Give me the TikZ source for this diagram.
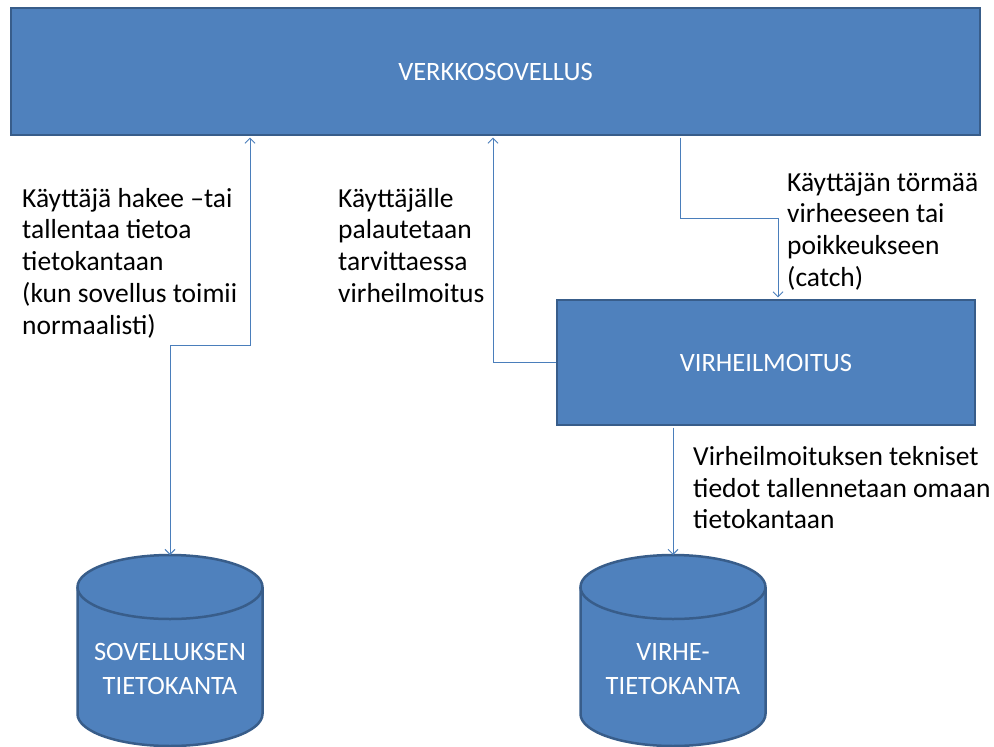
\documentclass[tikz,border=0pt]{standalone}
\usepackage{fontspec}
\setmainfont{Carlito}
\usetikzlibrary{arrows.meta,positioning}
\definecolor{boxfill}{HTML}{4F81BD}
\definecolor{boxline}{HTML}{385D8A}
\definecolor{connc}{HTML}{4A7EBB}
\tikzset{
  bluebox/.style={draw=boxline, fill=boxfill, line width=2.5pt, rectangle, inner sep=0pt,
    text=white, font=\fontsize{26.5}{32}\selectfont, align=center},
  conn/.style={draw=connc, line width=1pt, arrows={-Straight Barb[length=5pt,width=10pt]}},
  lbl/.style={anchor=north west, align=left, inner sep=0pt, text=black,
    font=\fontsize{27.5}{31.7}\selectfont},
  dblbl/.style={text=white, align=center, inner sep=0pt, font=\fontsize{26.5}{34}\selectfont},
  dbshape/.style={fill=boxfill, draw=boxline, line width=2.5pt}
}
\begin{document}
\begin{tikzpicture}[x=1pt,y=-1pt]
\useasboundingbox (0,0) rectangle (994,747);
% boxes
\node[bluebox, minimum width=969pt, minimum height=127pt] (app) at (495.5,71.5) {VERKKOSOVELLUS};
\node[bluebox, minimum width=418pt, minimum height=125pt] (err) at (766,362.5) {VIRHEILMOITUS};
% cylinder 1
\coordinate (db1top) at (170,555);
\fill[boxfill] (77.5,587) -- (77.5,714) arc[start angle=180,end angle=360,x radius=92.5pt,y radius=32pt] -- (262.5,587) arc[start angle=0,end angle=180,x radius=92.5pt,y radius=32pt] -- cycle;
\draw[boxline,line width=2.5pt] (77.5,587) -- (77.5,714) arc[start angle=180,end angle=360,x radius=92.5pt,y radius=32pt] -- (262.5,587);
\draw[boxline,line width=2.5pt] (170,587) ellipse[x radius=92.5pt,y radius=32pt];
\node[dblbl] (db1) at (170,669) {SOVELLUKSEN\\TIETOKANTA};
% cylinder 2
\coordinate (db2top) at (673,555);
\fill[boxfill] (580.5,587) -- (580.5,714) arc[start angle=180,end angle=360,x radius=92.5pt,y radius=32pt] -- (765.5,587) arc[start angle=0,end angle=180,x radius=92.5pt,y radius=32pt] -- cycle;
\draw[boxline,line width=2.5pt] (580.5,587) -- (580.5,714) arc[start angle=180,end angle=360,x radius=92.5pt,y radius=32pt] -- (765.5,587);
\draw[boxline,line width=2.5pt] (673,587) ellipse[x radius=92.5pt,y radius=32pt];
\node[dblbl] (db2) at (673,669) {VIRHE-\\TIETOKANTA};
% connectors
\coordinate (k1) at (250,345);
\draw[conn,arrows={Straight Barb[length=5pt,width=10pt]-Straight Barb[length=5pt,width=10pt]}] ([yshift=-1.3pt]k1 |- app.south) -- (k1) -| (db1top);
\coordinate (k2) at (493,0);
\draw[conn] (err.west) -| ([yshift=-1.3pt]k2 |- app.south);
\coordinate (k3) at (680,218);
\coordinate (k3b) at (778,218);
\draw[conn] ([yshift=-1.3pt]k3 |- app.south) -- (k3) -- (k3b) -- ([yshift=1.3pt]k3b |- err.north);
\draw[conn] ([yshift=-1.3pt]db2top |- err.south) -- (db2top);
% labels
\node[lbl] (t1) at (22,188) {Käyttäjä hakee –tai\\tallentaa tietoa\\tietokantaan\\(kun sovellus toimii\\normaalisti)};
\node[lbl] (t2) at (338,188) {Käyttäjälle\\palautetaan\\tarvittaessa\\virheilmoitus};
\node[lbl] (t3) at (787,172) {Käyttäjän törmää\\virheeseen tai\\poikkeukseen\\(catch)};
\node[lbl] (t4) at (693,446) {Virheilmoituksen tekniset\\tiedot tallennetaan omaan\\tietokantaan};
\end{tikzpicture}
\end{document}
